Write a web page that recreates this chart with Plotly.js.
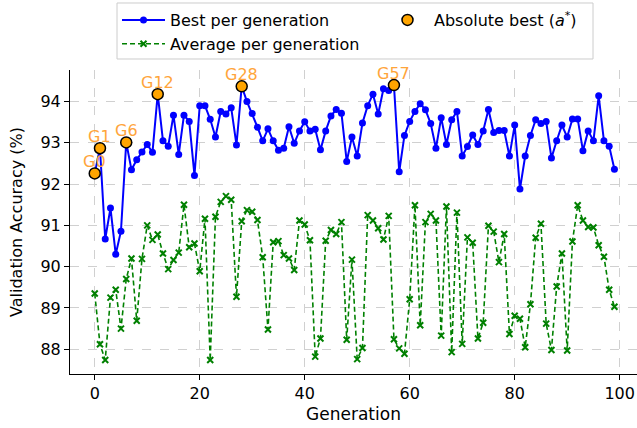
<!DOCTYPE html>
<html>
<head>
<meta charset="utf-8">
<script src="https://cdn.plot.ly/plotly-3.0.1.min.js"></script>
<style>html,body{margin:0;padding:0;background:#fff;}#chart{width:637px;height:428px;}</style>
</head>
<body>
<div id="chart"></div>
<script>
const generations = Array.from({length: 100}, (_, i) => i);
const bestPerGen = [
  92.26, 92.87, 90.67, 91.42, 90.30, 90.86, 93.01, 92.35, 92.59, 92.78,
  92.96, 92.77, 94.18, 93.05, 92.92, 93.67, 92.72, 93.67, 93.52, 92.21,
  93.90, 93.90, 93.57, 93.14, 93.76, 93.70, 93.85, 92.95, 94.37, 94.00,
  93.71, 93.38, 93.05, 93.34, 93.05, 92.82, 92.87, 93.39, 92.99, 93.29,
  93.51, 93.29, 93.33, 92.83, 93.29, 93.65, 93.81, 93.72, 92.55, 93.14,
  92.68, 93.48, 93.90, 94.18, 93.70, 94.31, 94.27, 94.40, 92.30, 93.18,
  93.52, 93.76, 93.95, 93.80, 93.47, 92.87, 93.61, 92.96, 93.56, 93.76,
  92.68, 92.91, 93.19, 92.96, 93.29, 93.81, 93.25, 93.30, 93.30, 92.68,
  93.43, 91.88, 92.68, 93.18, 93.56, 93.47, 93.52, 92.63, 93.05, 93.43,
  93.14, 93.58, 93.58, 92.81, 93.29, 93.05, 94.14, 93.05, 92.92, 92.36
];
const avgPerGen = [
  89.35, 88.12, 87.74, 89.25, 89.44, 88.50, 89.70, 90.20, 88.69, 90.19,
  91.00, 90.65, 90.78, 90.32, 89.94, 90.16, 90.34, 91.50, 90.47, 90.56,
  89.89, 91.16, 87.74, 91.21, 91.57, 91.71, 91.62, 89.27, 91.10, 91.37,
  91.33, 91.13, 90.23, 88.48, 90.59, 90.62, 90.28, 90.20, 89.92, 91.12,
  91.02, 90.64, 87.82, 88.26, 90.63, 90.89, 90.79, 91.08, 88.23, 90.17,
  87.76, 88.03, 91.25, 91.12, 90.93, 90.66, 91.23, 88.24, 88.02, 87.89,
  89.21, 91.49, 88.58, 91.08, 91.28, 91.12, 88.33, 91.46, 87.93, 91.31,
  88.13, 90.71, 90.58, 88.26, 88.64, 90.99, 90.85, 90.11, 90.79, 88.37,
  88.81, 88.74, 88.05, 89.09, 90.70, 91.04, 88.62, 87.98, 89.52, 90.32,
  87.97, 90.61, 91.49, 91.12, 90.96, 90.95, 90.52, 90.24, 89.44, 89.03
];
const xTicks = [0, 20, 40, 60, 80, 100];
const yTicks = [88, 89, 90, 91, 92, 93, 94];

// generations where the running best improved
const absGen = [], absVal = [];
let runMax = -Infinity;
generations.forEach((g, i) => {
  if (bestPerGen[i] > runMax) { runMax = bestPerGen[i]; absGen.push(g); absVal.push(bestPerGen[i]); }
});

const FONT = 'DejaVu Sans, sans-serif';

const traces = [
  {
    x: generations, y: bestPerGen, type: 'scatter', mode: 'lines+markers',
    name: 'Best per generation', legend: 'legend', legendgroup: 'a',
    line: {color: '#0000ff', width: 2},
    marker: {color: '#0000ff', size: 7, symbol: 'circle'}
  },
  {
    x: generations, y: avgPerGen, type: 'scatter', mode: 'lines+markers',
    name: 'Average per generation', legend: 'legend', legendgroup: 'b',
    line: {color: '#008000', width: 1.6, dash: '5px,3px'},
    marker: {color: '#008000', size: 6, symbol: 'x-thin', line: {color: '#008000', width: 2}}
  },
  {
    x: absGen, y: absVal, type: 'scatter', mode: 'markers',
    name: 'Absolute best (<i>a</i><sup>*</sup>)', legend: 'legend2',
    marker: {color: '#ffa500', size: 11, symbol: 'circle', line: {color: '#000000', width: 1.5}}
  }
];

const annotations = absGen.map((g, k) => ({
  x: g, y: absVal[k], xref: 'x', yref: 'y',
  text: 'G' + g, showarrow: false,
  xanchor: 'center', yanchor: 'middle', yshift: 12,
  font: {family: FONT, size: 16, color: '#ffa53a'}
}));

const layout = {
  width: 637, height: 428,
  margin: {l: 70, r: 0, t: 70, b: 54},
  paper_bgcolor: '#ffffff', plot_bgcolor: '#ffffff',
  font: {family: FONT, size: 16, color: '#000000'},
  showlegend: true,
  legend: {
    orientation: 'v', x: 0.0829, xanchor: 'left', y: 1.2204, yanchor: 'top',
    itemwidth: 43, tracegroupgap: 0,
    bgcolor: 'rgba(0,0,0,0)', borderwidth: 0,
    font: {family: FONT, size: 16, color: '#000000'}
  },
  legend2: {
    orientation: 'v', x: 0.5485, xanchor: 'left', y: 1.2204, yanchor: 'top',
    itemwidth: 43,
    bgcolor: 'rgba(0,0,0,0)', borderwidth: 0,
    font: {family: FONT, size: 16, color: '#000000'}
  },
  shapes: [{
    type: 'rect', xref: 'paper', yref: 'paper',
    x0: 0.0829, x1: 0.9224, y0: 1.0362, y1: 1.2204,
    line: {color: '#cccccc', width: 1}, fillcolor: 'rgba(255,255,255,0.8)', layer: 'below'
  }],
  xaxis: {
    range: [-4.71, 103.3], tickvals: xTicks, ticktext: xTicks.map(String),
    showline: true, linecolor: '#000000', linewidth: 1, mirror: false,
    ticks: 'outside', ticklen: 5, tickwidth: 1, tickcolor: '#000000',
    showgrid: true, gridcolor: '#d0d0d0', griddash: 'dash', gridwidth: 1,
    zeroline: false, tickfont: {family: FONT, size: 16},
    title: {text: 'Generation', font: {family: FONT, size: 17}, standoff: 5}
  },
  yaxis: {
    range: [87.40, 94.765], tickvals: yTicks, ticktext: yTicks.map(String),
    showline: true, linecolor: '#000000', linewidth: 1, mirror: false,
    ticks: 'outside', ticklen: 5, tickwidth: 1, tickcolor: '#000000',
    showgrid: true, gridcolor: '#d0d0d0', griddash: 'dash', gridwidth: 1,
    zeroline: false, tickfont: {family: FONT, size: 16},
    title: {text: 'Validation Accuracy (%)', font: {family: FONT, size: 16}, standoff: 13}
  },
  annotations: annotations
};

Plotly.newPlot('chart', traces, layout, {displayModeBar: false, staticPlot: true});
</script>
</body>
</html>
